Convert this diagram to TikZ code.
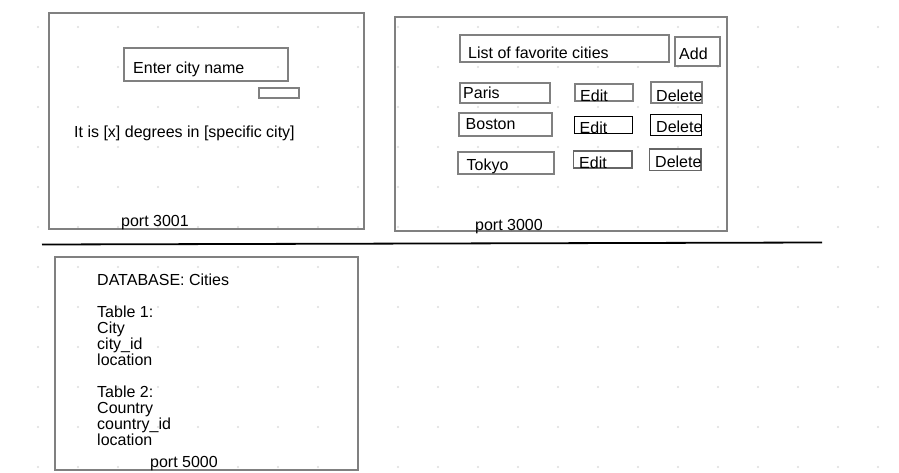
\documentclass[tikz,border=0pt]{standalone}
\usepackage{fontspec}
\setmainfont{Liberation Sans}
\begin{document}
\begin{tikzpicture}[x=1pt,y=-1pt,
  panel/.style={draw=black!50, line width=2pt},
  field/.style={draw=black!50, line width=2pt},
  thinfield/.style={draw=black, line width=1pt},
  midfield/.style={draw=black!60, line width=1.4pt},
  label/.style={anchor=base west, inner sep=0pt, font=\fontsize{16}{16}\selectfont},
  griddot/.style={fill=black!13, draw=none}]
\useasboundingbox (0,0) rectangle (899,473);
\fill[white] (0,0) rectangle (899,473);

% dotted background grid
\foreach \gx in {38,78,...,878}
  \foreach \gy in {27,67,...,467}
    \fill[griddot] (\gx,\gy) circle (1.2);

% client on port 3001
\draw[panel] (49,13) rectangle (364,229);
\draw[field] (124,48) rectangle (288,81);
\node[label] (cityinput) at (133,73.5) {Enter city name};
\draw[field] (259,88) rectangle (299,98);
\node[label] (result) at (74,137.5) {It is [x] degrees in [specific city]};
\node[label] (port3001) at (121,226) {port 3001};

% client on port 3000
\draw[panel] (395,17) rectangle (727,231);
\draw[field] (460,35) rectangle (669,62);
\node[label] (favlist) at (468,59) {List of favorite cities};
\draw[field] (675,37) rectangle (720,66);
\node[label] (add) at (679,60) {Add};

\draw[field] (460,83) rectangle (550,103);
\node[label] (paris) at (463,99) {Paris};
\draw[field] (575,84) rectangle (633,101);
\node[label] (edit1) at (580,101.7) {Edit};
\draw[field] (651,82) rectangle (702,103);
\node[label] (del1) at (656,101.7) {Delete};

\draw[field] (459,113) rectangle (552,136);
\node[label] (boston) at (465.5,130) {Boston};
\draw[thinfield] (574,116.5) rectangle (632,133.5);
\node[label] (edit2) at (579.5,133.5) {Edit};
\draw[thinfield] (650,114.5) rectangle (701.5,135.5);
\node[label] (del2) at (656,133) {Delete};

\draw[field] (458,152) rectangle (554,174);
\node[label] (tokyo) at (466.5,171) {Tokyo};
\draw[midfield] (573.5,151) rectangle (632,168);
\node[label] (edit3) at (579,168.5) {Edit};
\draw[midfield] (649.5,149) rectangle (701,170.5);
\node[label] (del3) at (655,168) {Delete};

\node[label] (port3000) at (475,230) {port 3000};

% divider between front end and back end
\coordinate (divL) at (42,244.5);
\coordinate (divR) at (822,242.5);
\draw[black, line width=1.8pt] (divL) -- (divR);

% database on port 5000
\draw[panel] (55,257) rectangle (358,470);
\node[label] (db) at (97,285.7) {DATABASE: Cities};
\node[label] (t1) at (97,317.7) {Table 1:};
\node[label] (t1a) at (97,333.7) {City};
\node[label] (t1b) at (97,349.7) {city\_id};
\node[label] (t1c) at (97,365.7) {location};
\node[label] (t2) at (97,397.7) {Table 2:};
\node[label] (t2a) at (97,413.7) {Country};
\node[label] (t2b) at (97,429.7) {country\_id};
\node[label] (t2c) at (97,445.7) {location};
\node[label] (port5000) at (150,467.7) {port 5000};
\end{tikzpicture}
\end{document}
